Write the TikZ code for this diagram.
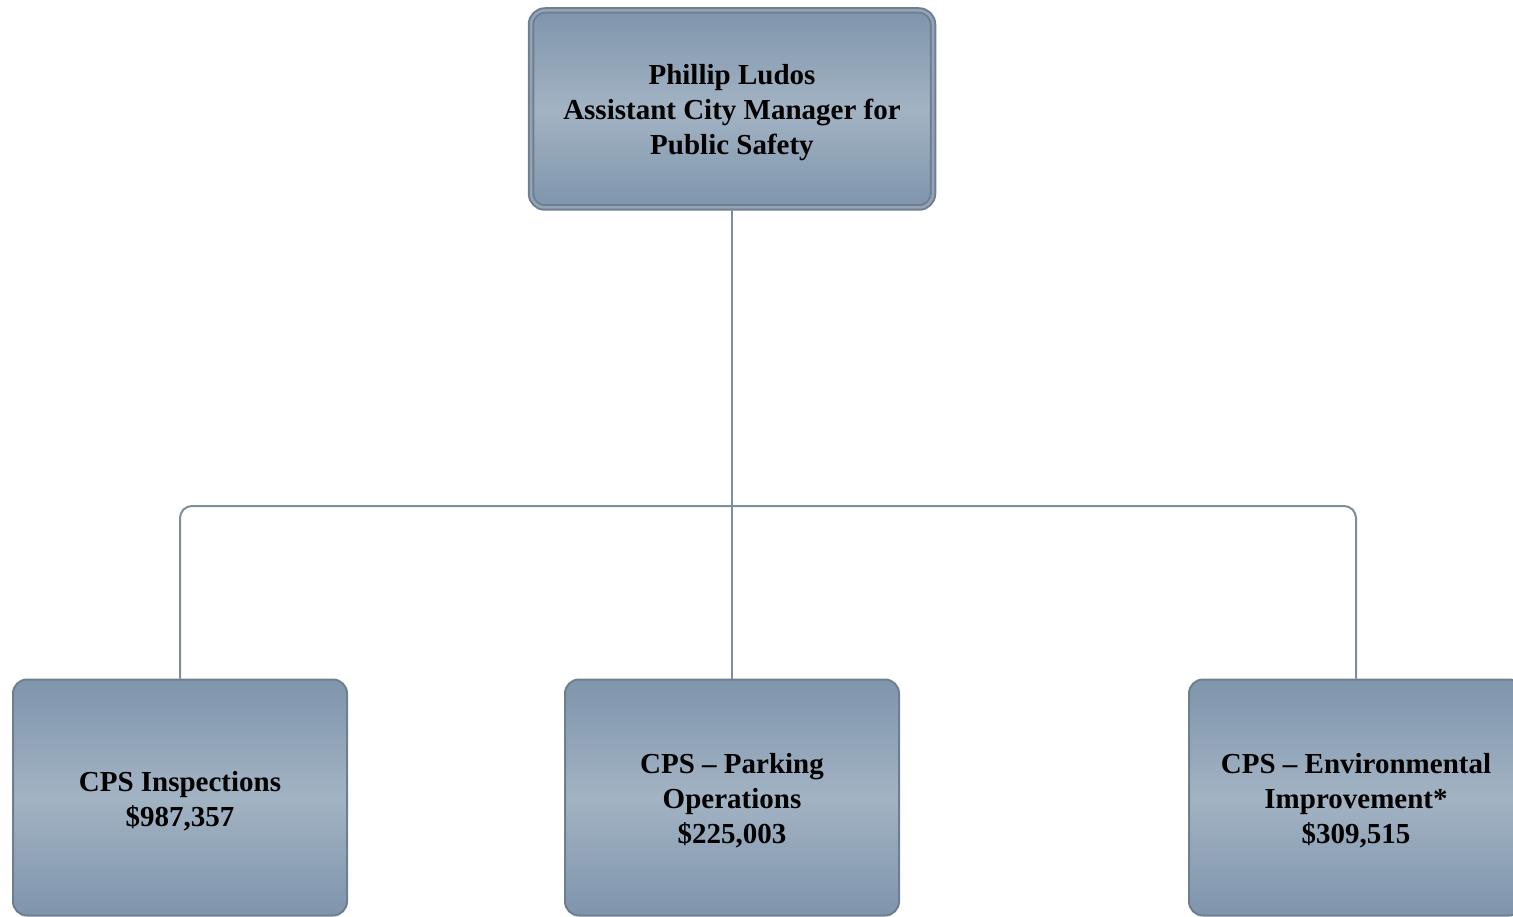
\documentclass[tikz,border=0pt]{standalone}
\usepackage{fontspec}
\setmainfont{Liberation Serif}
\definecolor{boxedge}{HTML}{6F7F90}
\definecolor{boxdark}{HTML}{7F95AC}
\definecolor{boxlight}{HTML}{A2B3C3}
\definecolor{wire}{HTML}{7E8C9B}
% taller first line, so the text block sits a little lower in its box
\newcommand{\firstlinestrut}{\rule{0pt}{27pt}}
\tikzset{
  orgbox/.style={draw=boxedge, rounded corners=14pt, align=center, inner sep=0pt,
    top color=boxdark, bottom color=boxdark, middle color=boxlight,
    font=\bfseries\fontsize{29}{35}\selectfont, text=black},
  headbox/.style={orgbox, double=boxdark!85!white, double distance=2.5pt, line width=2pt,
    minimum width=402pt, minimum height=197pt},
  unitbox/.style={orgbox, line width=2pt, minimum width=334pt, minimum height=236pt},
  wireline/.style={draw=wire, line width=2pt}
}
\begin{document}
\begin{tikzpicture}[x=1pt, y=-1pt]
  \useasboundingbox (0,0) rectangle (1513,917);
  % organisational units
  \node[unitbox] (insp) at (180,797.5) {\firstlinestrut CPS Inspections\\\$987,357};
  \node[unitbox] (park) at (732,797.5) {\firstlinestrut CPS – Parking\\Operations\\\$225,003};
  \node[unitbox] (env) at (1356,797.5) {\firstlinestrut CPS – Environmental\\Improvement*\\\$309,515};
  % head of the branch
  \node[headbox] (head) at (732,109) {\firstlinestrut Phillip Ludos\\Assistant City Manager for\\Public Safety};
  % reporting lines
  \coordinate (bar) at (732,506);
  \draw[wireline] (head.south) -- (park.north);
  \draw[wireline, rounded corners=12pt] (insp.north) |- (bar) -| (env.north);
\end{tikzpicture}
\end{document}
